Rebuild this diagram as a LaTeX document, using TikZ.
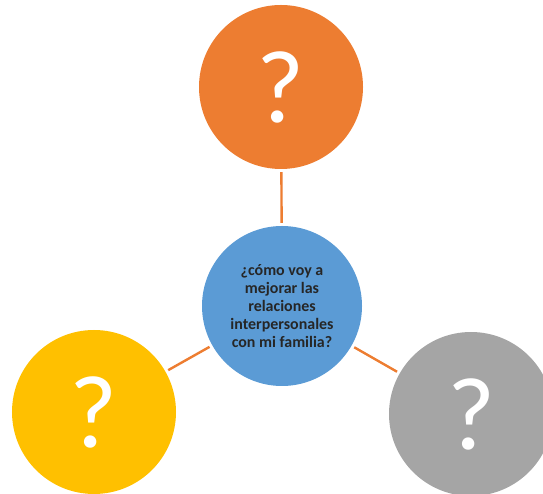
\documentclass[tikz,border=0pt]{standalone}
\usepackage{fontspec}
\setmainfont{Carlito}
\definecolor{orangeq}{HTML}{ED7D31}
\definecolor{blueq}{HTML}{5B9BD5}
\definecolor{yellowq}{HTML}{FFC000}
\definecolor{grayq}{HTML}{A5A5A5}
\tikzset{
  bubble/.style={circle, inner sep=0pt, minimum size=164bp, text=white,
    font=\fontsize{104}{104}\selectfont},
  link/.style={draw=orangeq, line width=2.4bp, shorten <=3bp, shorten >=3bp}
}
\begin{document}
\begin{tikzpicture}[x=1bp,y=1bp]
    \useasboundingbox (0,0) rectangle (543,494);
    \clip (0,0) rectangle (543,494);

    \coordinate (T) at (281,407);
    \coordinate (C) at (282,188);
    \coordinate (L) at (94,82);
    \coordinate (R) at (471,80);

    \node[bubble, fill=orangeq] (qtop) at (T) {?};
    \node[bubble, fill=yellowq] (qleft) at (L) {?};
    \node[bubble, fill=grayq] (qright) at (R) {?};
    \node[circle, fill=blueq, minimum size=160bp, inner sep=0pt, align=center,
      text=black!85, font=\bfseries\fontsize{16}{18}\selectfont] (hub) at (C)
      {¿cómo voy a\\mejorar las\\relaciones\\interpersonales\\con mi familia?};

    \draw[link] (hub) -- (qtop);
    \draw[link] (hub) -- (qleft);
    \draw[link] (hub) -- (qright);
\end{tikzpicture}
\end{document}
